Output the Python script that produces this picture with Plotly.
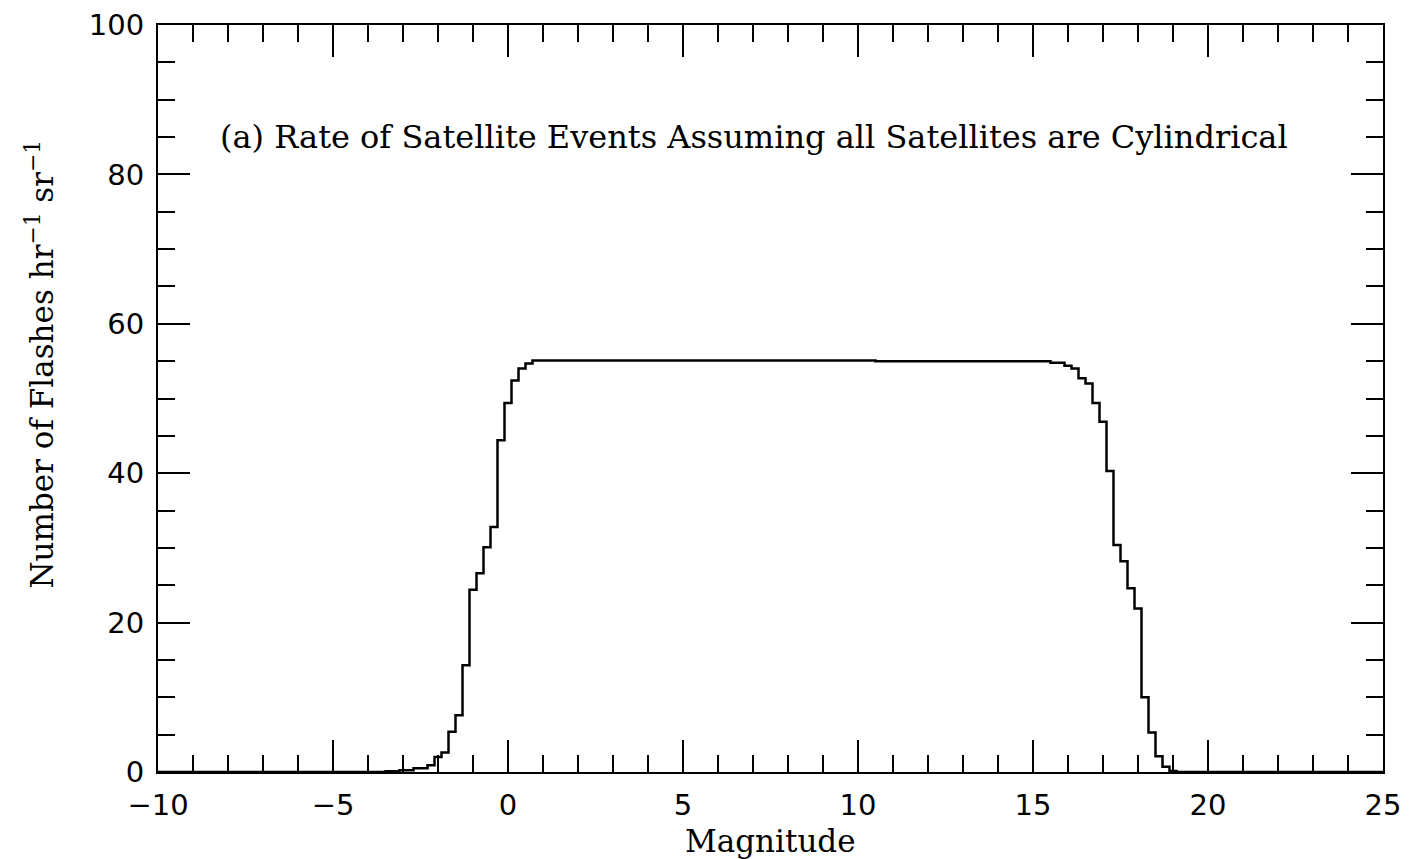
import plotly.graph_objects as go

# Step histogram: left edge of each constant-rate segment (magnitude) and its rate
mag_edges = [-10, -3.5, -3.1, -2.7, -2.3, -2.1, -1.9, -1.7, -1.5, -1.3, -1.1, -0.9,
             -0.7, -0.5, -0.3, -0.1, 0.1, 0.3, 0.5, 0.7, 10.5, 15.5, 15.9, 16.1,
             16.3, 16.5, 16.7, 16.9, 17.1, 17.3, 17.5, 17.7, 17.9, 18.1, 18.3,
             18.5, 18.7, 18.9, 19.1, 25]
rate = [0, 0.1, 0.25, 0.5, 0.9, 2.0, 2.6, 5.4, 7.6, 14.3, 24.4, 26.6,
        30.1, 32.8, 44.4, 49.4, 52.4, 54.0, 54.7, 55.1, 55.0, 54.8, 54.4, 54.0,
        52.7, 52.0, 49.4, 46.9, 40.3, 30.4, 28.2, 24.6, 21.9, 10.0, 5.3,
        2.1, 0.7, 0.15, 0, 0]

x_ticks = [-10, -5, 0, 5, 10, 15, 20, 25]
y_ticks = [0, 20, 40, 60, 80, 100]

title_text = "(a) Rate of Satellite Events Assuming all Satellites are Cylindrical"

SERIF = "DejaVu Serif"
SANS = "DejaVu Sans"

fig = go.Figure()
fig.add_trace(go.Scatter(
    x=mag_edges, y=rate, mode="lines", line_shape="hv",
    line=dict(color="black", width=2.5), showlegend=False, hoverinfo="skip"))

axis_common = dict(
    showgrid=False, zeroline=False, showline=True, linecolor="black", linewidth=2,
    mirror="ticks", ticks="inside", tickcolor="black", tickwidth=2, ticklen=32,
    tickfont=dict(family=SANS, size=29, color="black"),
    ticklabeloverflow="allow", automargin=False,
)

fig.update_xaxes(
    range=[-10, 25], tickmode="array", tickvals=x_ticks,
    ticktext=[("\u2212" + str(-v)) if v < 0 else str(v) for v in x_ticks],
    minor=dict(dtick=1, ticks="inside", ticklen=17, tickwidth=2, tickcolor="black"),
    ticklabelstandoff=6,
    **axis_common)
fig.update_yaxes(
    range=[0, 100], tickmode="array", tickvals=y_ticks,
    minor=dict(dtick=5, ticks="inside", ticklen=17, tickwidth=2, tickcolor="black"),
    ticklabelstandoff=6,
    **axis_common)

# x-axis title
fig.add_annotation(
    text="Magnitude", xref="paper", yref="paper", x=0.5, y=-0.092,
    xanchor="center", yanchor="middle", showarrow=False,
    font=dict(family=SERIF, size=31, color="black"))

# y-axis title
fig.add_annotation(
    text="Number of Flashes hr<sup>\u22121</sup> sr<sup>\u22121</sup>",
    xref="paper", yref="paper", x=-0.096, y=0.546, textangle=-90,
    showarrow=False, xanchor="center", yanchor="middle",
    font=dict(family=SERIF, size=31, color="black"))

# in-plot label
fig.add_annotation(
    text=title_text, xref="x", yref="y", x=(218 - 158) / 1225 * 35 - 10, y=85,
    xanchor="left", yanchor="middle", showarrow=False,
    font=dict(family=SERIF, size=32, color="black"))

fig.update_layout(
    width=1415, height=859,
    margin=dict(l=150, r=40, t=17, b=95, autoexpand=False),
    paper_bgcolor="white", plot_bgcolor="white",
)

fig.write_html("out.html")
